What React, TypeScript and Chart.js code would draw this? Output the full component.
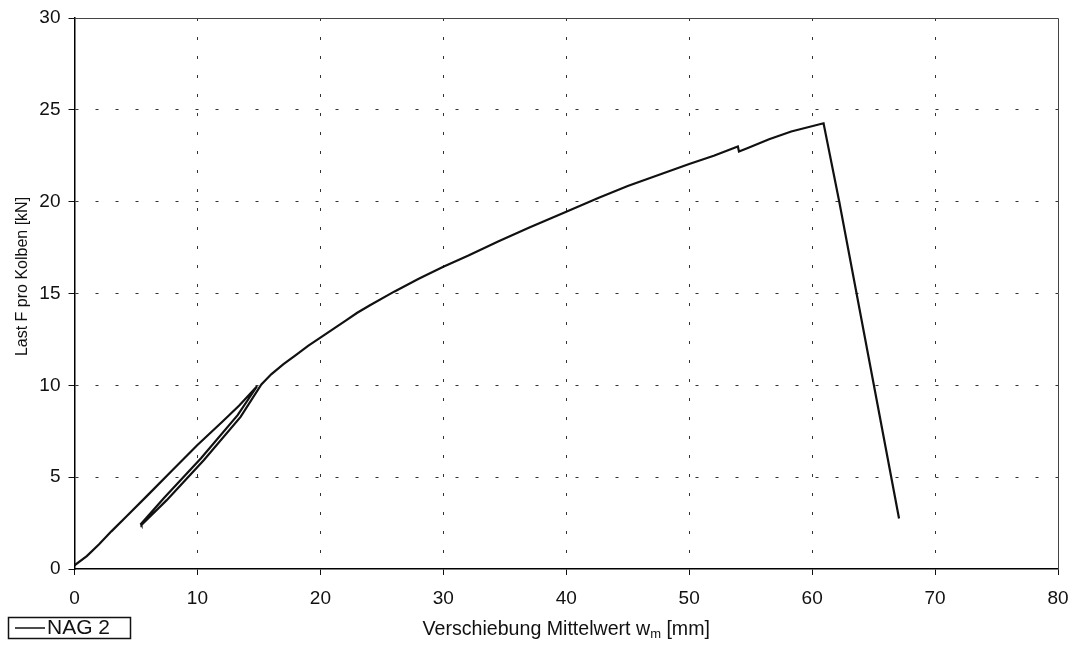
import React, { useEffect, useRef } from "react";
import { Chart, registerables } from "chart.js";

Chart.register(...registerables);

// Displacement w_m [mm]
const displacement = [
  0, 1, 2, 3, 4.2, 6, 8, 10, 12, 13.4, 14.85,
  13.27, 10.29, 7.26, 5.41,
  5.45, 7.5, 10.53, 13.51, 15.2,
  16, 17, 18, 19, 20, 21, 22, 23, 24, 26, 28, 30, 32, 34.5, 37, 40, 42.6,
  45, 47.5, 50, 52, 53.96, 54.05, 54.77, 56.5, 58.3, 60.93, 62.2, 67.07,
];
// Load F per piston [kN]
const load = [
  0.2, 0.7, 1.35, 2.05, 2.85, 4.05, 5.4, 6.75, 8.0, 8.9, 9.95,
  8.38, 6.03, 3.85, 2.45,
  2.4, 3.75, 5.93, 8.28, 10.05,
  10.6, 11.15, 11.65, 12.15, 12.6, 13.05, 13.5, 13.95, 14.35, 15.1, 15.8,
  16.45, 17.05, 17.85, 18.6, 19.45, 20.2,
  20.85, 21.45, 22.05, 22.5, 23.0, 22.73, 22.92, 23.4, 23.82, 24.27, 20.02, 2.75,
];
const seriesName = "NAG 2";
const xTitleMain = "Verschiebung Mittelwert w";
const xTitleSub = "m";
const xTitleEnd = " [mm]";
const yTitle = "Last F pro Kolben [kN]";
const xRange = [0, 80];
const yRange = [0, 30];

const FONT = "Liberation Sans, Arial, Helvetica, sans-serif";

const decorPlugin = {
  id: "decor",
  afterDraw(chart: any) {
    const { ctx, chartArea } = chart;
    const { left, right, top, bottom } = chartArea;
    ctx.save();
    // top and right frame
    ctx.strokeStyle = "#444";
    ctx.lineWidth = 1;
    ctx.setLineDash([]);
    ctx.beginPath();
    ctx.moveTo(left, top + 0.5);
    ctx.lineTo(right + 0.5, top + 0.5);
    ctx.lineTo(right + 0.5, bottom);
    ctx.stroke();

    // x title with subscript
    ctx.fillStyle = "#111";
    ctx.textBaseline = "alphabetic";
    ctx.textAlign = "left";
    const mainFont = `19.6px ${FONT}`;
    const subFont = `13px ${FONT}`;
    ctx.font = mainFont;
    const w1 = ctx.measureText(xTitleMain).width;
    const w3 = ctx.measureText(xTitleEnd).width;
    ctx.font = subFont;
    const w2 = ctx.measureText(xTitleSub).width;
    const total = w1 + w2 + w3;
    const cx = (left + right) / 2;
    let x = cx - total / 2;
    const baseY = 635;
    ctx.font = mainFont;
    ctx.fillText(xTitleMain, x, baseY);
    x += w1;
    ctx.font = subFont;
    ctx.fillText(xTitleSub, x, baseY + 3);
    x += w2;
    ctx.font = mainFont;
    ctx.fillText(xTitleEnd, x, baseY);

    // y title
    ctx.save();
    ctx.translate(27, 276.5);
    ctx.rotate(-Math.PI / 2);
    ctx.font = `16px ${FONT}`;
    ctx.textAlign = "center";
    ctx.textBaseline = "alphabetic";
    ctx.fillText(yTitle, 0, 0);
    ctx.restore();

    // legend box
    ctx.strokeStyle = "#111";
    ctx.lineWidth = 1.5;
    ctx.strokeRect(8.5, 617.5, 122, 21);
    ctx.beginPath();
    ctx.lineWidth = 1.5;
    ctx.moveTo(15, 628);
    ctx.lineTo(45, 628);
    ctx.stroke();
    ctx.font = `21px ${FONT}`;
    ctx.textAlign = "left";
    ctx.textBaseline = "middle";
    ctx.fillText(seriesName, 47, 628.5);
    ctx.restore();
  },
};

export default function App() {
  const ref = useRef<HTMLCanvasElement | null>(null);

  useEffect(() => {
    if (!ref.current) return;
    const points = displacement.map((x, i) => ({ x, y: load[i] }));
    const gridColor = (max: number) => (c: any) =>
      c.tick && (c.tick.value === 0 || c.tick.value === max) ? "rgba(0,0,0,0)" : "#333";
    const chart = new Chart(ref.current, {
      type: "scatter",
      data: {
        datasets: [
          {
            label: seriesName,
            data: points,
            showLine: true,
            borderColor: "#111",
            borderWidth: 2.2,
            pointRadius: 0,
            tension: 0,
            fill: false,
          },
        ],
      },
      options: {
        animation: false,
        responsive: false,
        maintainAspectRatio: false,
        layout: { padding: { left: 0, top: 18, right: 15, bottom: 0 } },
        plugins: {
          legend: { display: false },
          tooltip: { enabled: false },
        },
        scales: {
          x: {
            type: "linear",
            min: xRange[0],
            max: xRange[1],
            afterFit: (s: any) => {
              s.height = 78;
              s.paddingLeft = 0;
              s.paddingRight = 0;
            },
            ticks: {
              stepSize: 10,
              color: "#111",
              font: { family: FONT, size: 19 },
              padding: 12,
              maxRotation: 0,
            },
            grid: {
              color: gridColor(xRange[1]),
              lineWidth: 1,
              tickLength: 6,
              tickColor: "#111",
              tickWidth: 1,
            },
            border: { color: "#000", width: 1.5, dash: [3, 16] },
          },
          y: {
            type: "linear",
            min: yRange[0],
            max: yRange[1],
            afterFit: (s: any) => {
              s.width = 74.5;
              s.paddingTop = 0;
              s.paddingBottom = 0;
            },
            ticks: {
              stepSize: 5,
              color: "#111",
              font: { family: FONT, size: 19 },
              padding: 8,
            },
            grid: {
              color: gridColor(yRange[1]),
              lineWidth: 1,
              tickLength: 6,
              tickColor: "#111",
              tickWidth: 1,
            },
            border: { color: "#000", width: 1.5, dash: [3, 17] },
          },
        },
      },
      plugins: [decorPlugin],
    });
    return () => chart.destroy();
  }, []);

  return (
    <div style={{ position: "absolute", left: 0, top: 0, width: 1073, height: 647, background: "#fff" }}>
      <canvas ref={ref} width={1073} height={647} style={{ display: "block" }} />
    </div>
  );
}
